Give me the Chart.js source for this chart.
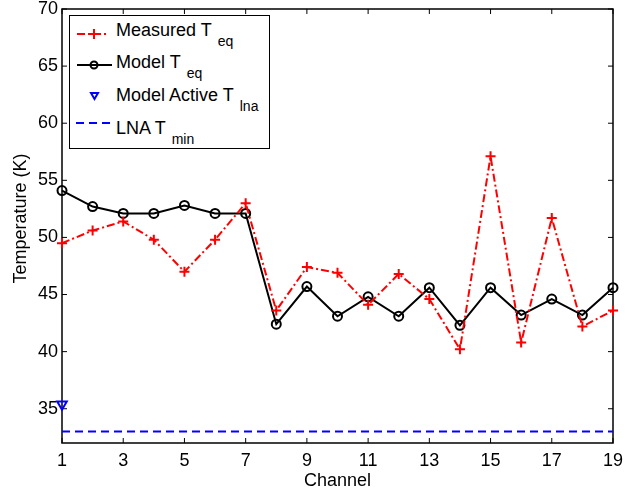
<!DOCTYPE html>
<html>
<head>
<meta charset="utf-8">
<script src="https://cdn.jsdelivr.net/npm/chart.js@4/dist/chart.umd.min.js"></script>
<style>
  body { margin:0; background:#fff; }
  #wrap { position:relative; width:625px; height:490px; }
  #legend { position:absolute; left:69px; top:15px; width:199px; height:132px; border:1px solid #000; background:#fff;
            font-family:'Liberation Sans', Arial, sans-serif; font-size:18px; line-height:18px; color:#000; }
  #legend .row { position:absolute; left:46px; white-space:nowrap; }
  #legend .sub { font-size:14px; position:relative; top:10px; margin-left:6px; }
  #legend svg { position:absolute; left:4px; }
</style>
</head>
<body>
<div id="wrap">
  <canvas id="tempChart"></canvas>
  <div id="legend">
    <svg style="top:10px" width="40" height="16"><line x1="3" y1="8" x2="33" y2="8" stroke="#f00" stroke-width="2" stroke-dasharray="8,3,2,3"/><path d="M20 3v10M15 8h10" stroke="#f00" stroke-width="2"/></svg>
    <div class="row" style="top:5px">Measured T<span class="sub">eq</span></div>
    <svg style="top:41px" width="40" height="16"><line x1="3" y1="8" x2="38" y2="8" stroke="#000" stroke-width="2"/><circle cx="20" cy="8" r="3.5" fill="none" stroke="#000" stroke-width="2"/></svg>
    <div class="row" style="top:37px">Model T<span class="sub">eq</span></div>
    <svg style="top:72px" width="40" height="16"><path d="M17 5h7l-3.5 6z" fill="none" stroke="#00f" stroke-width="2"/></svg>
    <div class="row" style="top:70px">Model Active T<span class="sub">lna</span></div>
    <svg style="top:99px" width="40" height="16"><line x1="2" y1="8" x2="39" y2="8" stroke="#00f" stroke-width="2" stroke-dasharray="8,5"/></svg>
    <div class="row" style="top:103px">LNA T<span class="sub">min</span></div>
  </div>
</div>
<script>
const channels = [1,2,3,4,5,6,7,8,9,10,11,12,13,14,15,16,17,18,19];
const measuredTeq = [49.5,50.6,51.4,49.8,47.0,49.8,53.0,43.6,47.4,46.9,44.1,46.8,44.6,40.2,57.1,40.8,51.7,42.2,43.6];
const modelTeq = [54.1,52.7,52.1,52.1,52.8,52.1,52.1,42.4,45.7,43.1,44.8,43.1,45.6,42.3,45.6,43.2,44.6,43.2,45.6];
const modelActiveTlna = [35.4];
const lnaTmin = 33;
const xTicks = [1,3,5,7,9,11,13,15,17,19];
const yTicks = [35,40,45,50,55,60,65,70];

Chart.defaults.font.family = "'Liberation Sans', Arial, sans-serif";
Chart.defaults.font.size = 18;
Chart.defaults.color = '#000';

// caja tipo matlab con ticks hacia dentro
const boxAxes = {
  id: 'boxAxes',
  beforeDatasetsDraw(chart) {
    const { ctx, chartArea: a, scales } = chart;
    ctx.save();
    ctx.strokeStyle = '#000';
    ctx.lineWidth = 1.5;
    ctx.strokeRect(a.left, a.top, a.right - a.left, a.bottom - a.top);
    ctx.lineWidth = 1;
    ctx.beginPath();
    xTicks.forEach(v => {
      const x = scales.x.getPixelForValue(v);
      ctx.moveTo(x, a.bottom); ctx.lineTo(x, a.bottom - 5);
      ctx.moveTo(x, a.top); ctx.lineTo(x, a.top + 5);
    });
    yTicks.forEach(v => {
      const y = scales.y.getPixelForValue(v);
      ctx.moveTo(a.left, y); ctx.lineTo(a.left + 5, y);
      ctx.moveTo(a.right, y); ctx.lineTo(a.right - 5, y);
    });
    ctx.stroke();
    ctx.restore();
  }
};

const ctx = document.getElementById('tempChart').getContext('2d');
const tempChart = new Chart(ctx, {
  type: 'line',
  data: {
    datasets: [
      {
        label: 'Measured Teq',
        data: channels.map((c,i) => ({ x:c, y:measuredTeq[i] })),
        borderColor: '#ff0000', backgroundColor: '#ff0000',
        borderWidth: 2, borderDash: [8,3,2,3],
        pointStyle: 'cross', pointRadius: 5, pointBorderWidth: 2,
        clip: false
      },
      {
        label: 'Model Teq',
        data: channels.map((c,i) => ({ x:c, y:modelTeq[i] })),
        borderColor: '#000', backgroundColor: 'rgba(0,0,0,0)',
        borderWidth: 2,
        pointStyle: 'circle', pointRadius: 4.5, pointBorderWidth: 2,
        clip: false
      },
      {
        label: 'Model Active Tlna',
        data: modelActiveTlna.map((v,i) => ({ x:channels[i], y:v })),
        showLine: false,
        borderColor: '#0000ff', backgroundColor: 'rgba(0,0,0,0)',
        pointStyle: 'triangle', pointRotation: 180, pointRadius: 5.5, pointBorderWidth: 2,
        clip: false
      },
      {
        label: 'LNA Tmin',
        data: [{ x:channels[0], y:lnaTmin }, { x:channels[channels.length-1], y:lnaTmin }],
        borderColor: '#0000ff', borderWidth: 2, borderDash: [8,5],
        pointRadius: 0
      }
    ]
  },
  options: {
    responsive: true,
    maintainAspectRatio: false,
    animation: false,
    layout: { autoPadding: false, padding: { top:9, right:12, left:0, bottom:0 } },
    plugins: { legend:{ display:false }, tooltip:{ enabled:false } },
    scales: {
      x: {
        type: 'linear', min: 1, max: 19,
        afterBuildTicks: s => { s.ticks = xTicks.map(v => ({ value:v })); },
        afterFit: s => { s.height = 47; s.paddingLeft = 0; s.paddingRight = 0; },
        grid: { display:false, drawTicks:false },
        border: { display:false },
        ticks: { padding: 9, maxRotation: 0, font:{ size:18, lineHeight:1 } },
        title: { display:true, text:'Channel', padding:{ top:0, bottom:-2 }, font:{ size:18 } }
      },
      y: {
        type: 'linear', min: 32, max: 70,
        afterBuildTicks: s => { s.ticks = yTicks.map(v => ({ value:v })); },
        afterFit: s => { s.width = 62; s.paddingTop = 0; s.paddingBottom = 0; },
        grid: { display:false, drawTicks:false },
        border: { display:false },
        ticks: { padding: 4, font:{ size:18, lineHeight:1 } },
        title: { display:true, text:'   Temperature (K)', padding:{ top:10, bottom:0 }, font:{ size:18 } }
      }
    }
  },
  plugins: [boxAxes]
});
</script>
</body>
</html>
